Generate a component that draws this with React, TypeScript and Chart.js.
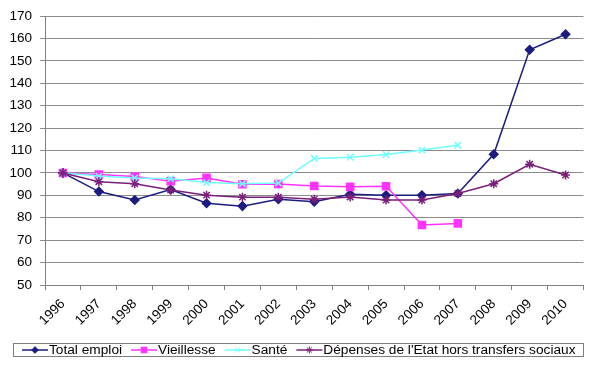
import React, { useEffect, useRef } from 'react';
import { Chart, registerables } from 'chart.js';
import { drawPoint } from 'chart.js/helpers';

Chart.register(...registerables);

const years = ['1996', '1997', '1998', '1999', '2000', '2001', '2002', '2003', '2004', '2005', '2006', '2007', '2008', '2009', '2010'];
const totalEmploi = [100, 91.7, 87.9, 92.6, 86.5, 85.2, 88.3, 87.2, 90.5, 90.1, 90.1, 90.8, 108.3, 155.0, 161.9];
const vieillesse = [100, 99.3, 98.4, 96.3, 97.8, 95.0, 95.1, 94.2, 93.8, 94.1, 76.8, 77.5, null, null, null];
const sante = [100, 98.6, 97.8, 97.4, 95.7, 95.2, 95.5, 106.5, 107.0, 108.2, 110.2, 112.4, null, null, null];
const depenses = [100, 96.1, 95.2, 92.4, 90.1, 89.2, 89.2, 88.3, 89.3, 87.9, 87.9, 90.8, 95.2, 103.9, 99.1];
const seriesLabels = ['Total emploi', 'Vieillesse', 'Santé', "Dépenses de l'Etat hors transfers sociaux"];
const yMin = 50;
const yMax = 170;
const yStep = 10;

const FONT = '"Liberation Sans", Arial, sans-serif';

const boxLegend = {
  id: 'boxLegend',
  afterDraw(chart: any) {
    const ctx = chart.ctx as CanvasRenderingContext2D;
    ctx.save();
    ctx.strokeStyle = '#7f7f7f';
    ctx.lineWidth = 1;
    ctx.strokeRect(13.5, 343.5, 570, 13);
    ctx.font = `13.7px ${FONT}`;
    ctx.textBaseline = 'middle';
    const y = 350;
    let x = 22;
    chart.data.datasets.forEach((ds: any) => {
      ctx.strokeStyle = ds.borderColor;
      ctx.lineWidth = 1.5;
      ctx.beginPath();
      ctx.moveTo(x, y);
      ctx.lineTo(x + 26, y);
      ctx.stroke();
      ctx.fillStyle = ds.pointBackgroundColor;
      ctx.strokeStyle = ds.pointBorderColor;
      ctx.lineWidth = 1;
      drawPoint(ctx, { pointStyle: ds.pointStyle, rotation: 0, radius: ds.pointRadius * 0.8, borderWidth: 1 } as any, x + 13, y);
      ctx.fillStyle = '#000';
      ctx.fillText(ds.label, x + 27, y + 0.5);
      x += 27 + ctx.measureText(ds.label).width + 9;
    });
    ctx.restore();
  },
};

export default function App() {
  const ref = useRef<HTMLCanvasElement>(null);
  useEffect(() => {
    if (!ref.current) return;
    const mk = (label: string, data: any[], color: string, style: string, radius: number, order: number) => ({
      label,
      data,
      borderColor: color,
      backgroundColor: color,
      pointBackgroundColor: color,
      pointBorderColor: color,
      pointStyle: style,
      pointRadius: radius,
      pointBorderWidth: 1.5,
      borderWidth: 1.5,
      tension: 0,
      spanGaps: false,
      order,
    });
    const chart = new Chart(ref.current, {
      type: 'line',
      data: {
        labels: years,
        datasets: [
          mk(seriesLabels[0], totalEmploi, '#1c1c80', 'rectRot', 4.2, 3),
          mk(seriesLabels[1], vieillesse, '#ff33ff', 'rect', 5, 2),
          mk(seriesLabels[2], sante, '#70ffff', 'crossRot', 4.5, 1),
          mk(seriesLabels[3], depenses, '#7a1f7a', 'star', 4.5, 0),
        ] as any,
      },
      options: {
        animation: false,
        responsive: false,
        maintainAspectRatio: false,
        layout: { padding: { top: 7, right: 0, left: 0, bottom: 0 } },
        plugins: { legend: { display: false }, tooltip: { enabled: false } },
        scales: {
          x: {
            type: 'category',
            offset: true,
            grid: { offset: true, drawOnChartArea: false, drawTicks: true, tickLength: 5, color: '#808080' },
            border: { color: '#808080' },
            ticks: {
              color: '#000',
              font: { family: FONT, size: 13.5 },
              maxRotation: 45,
              minRotation: 45,
              autoSkip: false,
              padding: 6,
            },
            afterFit: (s: any) => { s.height = 80; },
          },
          y: {
            min: yMin,
            max: yMax,
            ticks: { stepSize: yStep, color: '#000', font: { family: FONT, size: 13.5 }, padding: 8 },
            grid: { color: '#8c8c8c', tickLength: 5, lineWidth: 1 },
            border: { color: '#808080' },
            afterFit: (s: any) => { s.width = 45; },
          },
        },
      },
      plugins: [boxLegend],
    });
    return () => chart.destroy();
  }, []);
  return (
    <div style={{ position: 'fixed', left: 0, top: 0, width: 590, height: 365, background: '#fff' }}>
      <canvas ref={ref} width={590} height={365} style={{ width: 590, height: 365 }} />
    </div>
  );
}
